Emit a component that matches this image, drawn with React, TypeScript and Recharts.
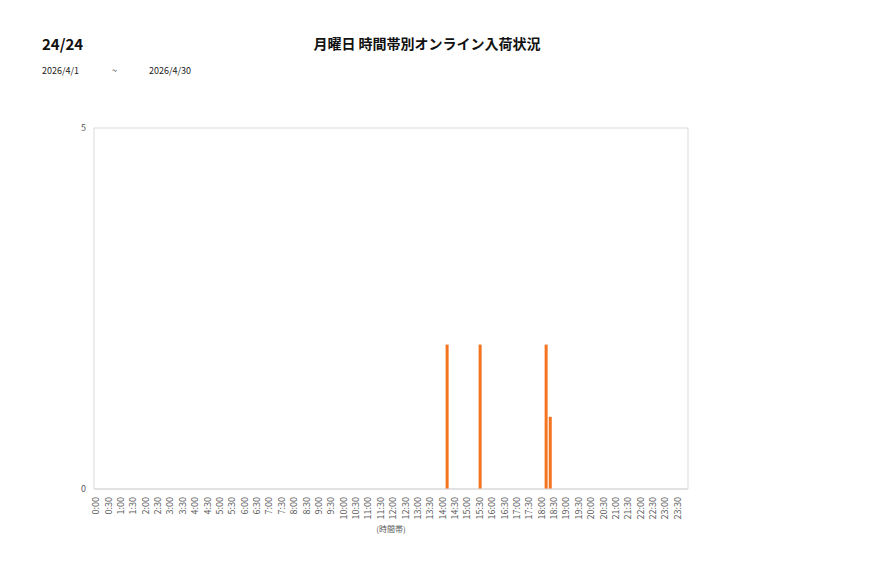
import { BarChart, Bar, XAxis, YAxis, CartesianGrid } from 'recharts';

// 10-minute slots, 0:00 .. 23:50
const slotLabels: string[] = [];
for (let h = 0; h < 24; h++) {
  for (let m = 0; m < 60; m += 10) {
    slotLabels.push(`${h}:${m === 0 ? '00' : m}`);
  }
}

// slots with arrivals (all others are 0)
const arrivalSlots = ['14:10', '15:30', '18:10', '18:20'];
const arrivalCounts = [2, 2, 2, 1];

const yTicks = [0, 5];

const data = slotLabels.map((slot) => {
  const i = arrivalSlots.indexOf(slot);
  return { slot, count: i >= 0 ? arrivalCounts[i] : 0 };
});

const jpFont = '"Noto Sans CJK JP", "Noto Sans", sans-serif';

function SlotTick(props: any) {
  const { x, y, payload } = props;
  return (
    <text
      x={x}
      y={y}
      transform={`rotate(-90, ${x}, ${y})`}
      textAnchor="end"
      dy="0.35em"
      fontSize={9}
      fill="#595959"
      fontFamily={jpFont}
    >
      {payload.value}
    </text>
  );
}

export default function App() {
  return (
    <div style={{ position: 'absolute', left: 0, top: 0, width: 877, height: 578, background: '#fff', fontFamily: jpFont }}>
      <div style={{ position: 'absolute', left: 42, top: 33, fontSize: 15, fontWeight: 700, color: '#111' }}>24/24</div>
      <div style={{ position: 'absolute', left: 0, width: 854, top: 33, textAlign: 'center', fontSize: 14, fontWeight: 700, color: '#111' }}>
        月曜日 時間帯別オンライン入荷状況
      </div>
      <div style={{ position: 'absolute', left: 42, top: 64, fontSize: 9, color: '#222' }}>2026/4/1</div>
      <div style={{ position: 'absolute', left: 112, top: 64, fontSize: 9, color: '#222' }}>~</div>
      <div style={{ position: 'absolute', left: 149, top: 64, fontSize: 9, color: '#222' }}>2026/4/30</div>
      <BarChart
        width={877}
        height={578}
        data={data}
        margin={{ top: 128, right: 189, bottom: 49, left: 64 }}
        barSize={3}
      >
        <CartesianGrid
          stroke="#d9d9d9"
          horizontalCoordinatesGenerator={({ offset }: any) => [offset.top, offset.top + offset.height]}
          verticalCoordinatesGenerator={({ offset }: any) => [offset.left, offset.left + offset.width]}
        />
        <XAxis
          dataKey="slot"
          interval={2}
          height={40}
          axisLine={{ stroke: '#d9d9d9' }}
          tickLine={false}
          tick={<SlotTick />}
          label={{ value: '(時間帯)', position: 'insideBottom', offset: -3, fontSize: 8, fill: '#595959' }}
        />
        <YAxis
          width={30}
          domain={[0, 5]}
          ticks={yTicks}
          axisLine={false}
          tickLine={false}
          tick={{ fontSize: 9, fill: '#595959' }}
        />
        <Bar dataKey="count" fill="#F4731F" isAnimationActive={false} />
      </BarChart>
    </div>
  );
}
